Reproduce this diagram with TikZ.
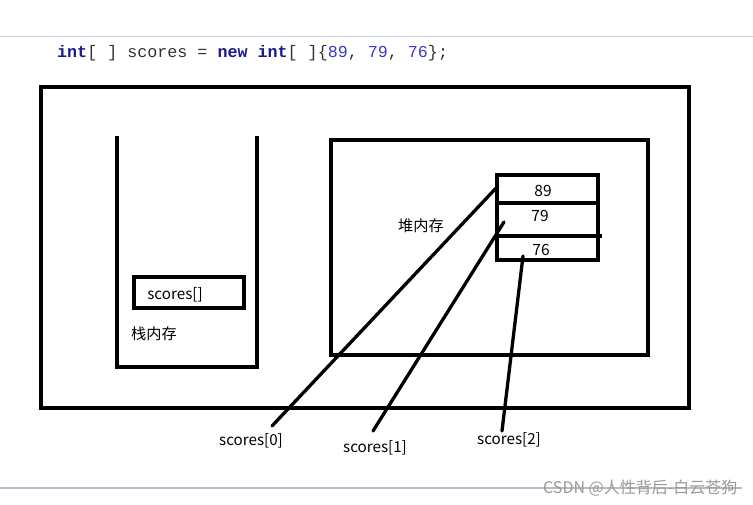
\documentclass[tikz,border=0pt]{standalone}
\usepackage{fontspec}
\setmainfont{Noto Sans CJK SC}
\newfontfamily\codefont{Liberation Mono}
\definecolor{kw}{HTML}{1A1A8C}
\definecolor{num}{HTML}{3A3AD0}
\definecolor{txt}{HTML}{333333}
\definecolor{rule1}{HTML}{C9D3DD}
\definecolor{rule2}{HTML}{B3BECB}
\definecolor{mark}{HTML}{9A9A9A}
\begin{document}
\begin{tikzpicture}[x=1pt,y=-1pt,
  box/.style={draw=black,line width=3.3pt},
  wire/.style={draw=black,line width=3.3pt,line cap=round},
  lbl/.style={inner sep=0pt,font=\fontsize{15.2}{17}\selectfont},
  val/.style={inner sep=0pt,font=\fontsize{15.5}{17}\selectfont}]
\useasboundingbox (0,0) rectangle (753,505);
\fill[white] (0,0) rectangle (753,505);
% page rules
\draw[rule1,line width=1.4pt] (0,36.5) -- (753,36.5);
\draw[rule2,line width=2.8pt] (0,488) -- (742,488);
% code line
\node[anchor=base west,inner sep=0pt,font=\codefont\fontsize{16.7}{18}\selectfont] (code) at (57,58)
 {\textcolor{kw}{\bfseries int}\textcolor{txt}{[ ] scores = }\textcolor{kw}{\bfseries new int}\textcolor{txt}{[ ]\{}\textcolor{num}{89}\textcolor{txt}{, }\textcolor{num}{79}\textcolor{txt}{, }\textcolor{num}{76}\textcolor{txt}{\};}};
% outer frame
\draw[box] (41,87) rectangle (689,408);
% stack
\draw[box] (117,136) -- (117,367) -- (257,367) -- (257,136);
\draw[box] (134,277) rectangle (244,308);
\node[lbl] (sref) at (175,295) {scores[]};
\node[lbl] (stack) at (154,334) {栈内存};
% heap
\draw[box] (331,140) rectangle (648,355);
\node[lbl] (heap) at (421,226) {堆内存};
\draw[box] (497,175) rectangle (598,260);
\draw[box] (497,203) -- (598,203);
\draw[box] (497,236) -- (602,236);
\node[val] (v0) at (543,191) {89};
\node[val] (v1) at (540,216) {79};
\node[val] (v2) at (541,250) {76};
% labels
\node[lbl] (l0) at (251,441) {scores[0]};
\node[lbl] (l1) at (375,448) {scores[1]};
\node[lbl] (l2) at (509,440) {scores[2]};
% connector ends
\coordinate (a0) at (498,186);
\coordinate (b0) at (272,426);
\coordinate (a1) at (504,222);
\coordinate (b1) at (373,431);
\coordinate (a2) at (523,256);
\coordinate (b2) at (502,431);
\draw[wire] (b0) -- (a0);
\draw[wire] (b1) -- (a1);
\draw[wire] (b2) -- (a2);
% watermark
\node[anchor=west,inner sep=0pt,text=mark,font=\fontsize{16}{18}\selectfont] (wm) at (543,488) {CSDN @人性背后-白云苍狗};
\end{tikzpicture}
\end{document}
